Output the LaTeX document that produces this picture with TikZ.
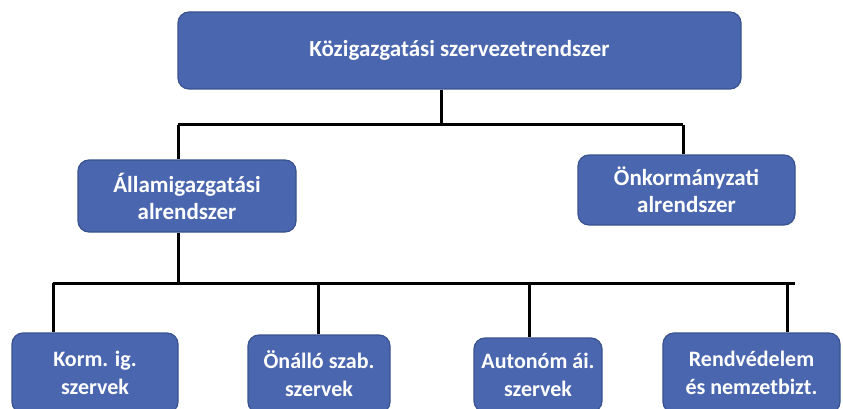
\documentclass[tikz,border=0pt]{standalone}
\usepackage{fontspec}
\setmainfont{Carlito}
\definecolor{boxfill}{HTML}{4A66AE}
\definecolor{boxline}{HTML}{3A5290}
\begin{document}
\begin{tikzpicture}[x=1pt,y=-1pt,
  orgbox/.style={draw=boxline, line width=1.2pt, fill=boxfill, rounded corners=11pt,
    text=white, align=center, inner sep=0pt},
  bigtxt/.style={font=\bfseries\fontsize{23}{27}\selectfont},
  smalltxt/.style={font=\bfseries\fontsize{22}{28}\selectfont},
  conn/.style={line width=3pt, black}]
\useasboundingbox (0,0) rectangle (843,409);
\begin{scope}
\clip (0,0) rectangle (843,409);
% boxes
\node[orgbox, bigtxt, minimum width=563, minimum height=77] (top) at (459.5,50.5) {Közigazgatási szervezetrendszer};
\node[orgbox, bigtxt, minimum width=218, minimum height=72] (allam) at (187,196) {Államigazgatási\\alrendszer};
\node[orgbox, bigtxt, minimum width=217, minimum height=70] (onk) at (686.5,190) {Önkormányzati\\alrendszer};
\node[orgbox, smalltxt, minimum width=166, minimum height=80] (korm) at (95,373) {Korm. ig.\\szervek};
\node[orgbox, smalltxt, minimum width=142, minimum height=78] (onallo) at (319,374) {Önálló szab.\\szervek};
\node[orgbox, smalltxt, minimum width=128, minimum height=74] (auton) at (538,375) {Autonóm ái.\\szervek};
\node[orgbox, smalltxt, minimum width=177, minimum height=80] (rend) at (751.5,373) {Rendvédelem\\és nemzetbizt.};
% junctions
\coordinate (j1) at (441,125);
\coordinate (j1l) at (178,125);
\coordinate (j1r) at (683,125);
\coordinate (j2) at (178,283);
\coordinate (j2l) at (53,283);
\coordinate (j2r) at (795,283);
\coordinate (d1) at (53,283);
\coordinate (d2) at (318,283);
\coordinate (d3) at (529,283);
\coordinate (d4) at (787,283);
% connectors
\draw[conn] (top.south -| j1) -- (j1);
\draw[conn] (j1l) -- (j1r);
\draw[conn] (j1l) -- (j1l |- allam.north);
\draw[conn] (j1r) -- (j1r |- onk.north);
\draw[conn] (allam.south -| j2) -- (j2);
\draw[conn] (j2l) -- (j2r);
\draw[conn] (d1) -- (d1 |- korm.north);
\draw[conn] (d2) -- (d2 |- onallo.north);
\draw[conn] (d3) -- (d3 |- auton.north);
\draw[conn] (d4) -- (d4 |- rend.north);
\end{scope}
\end{tikzpicture}
\end{document}
